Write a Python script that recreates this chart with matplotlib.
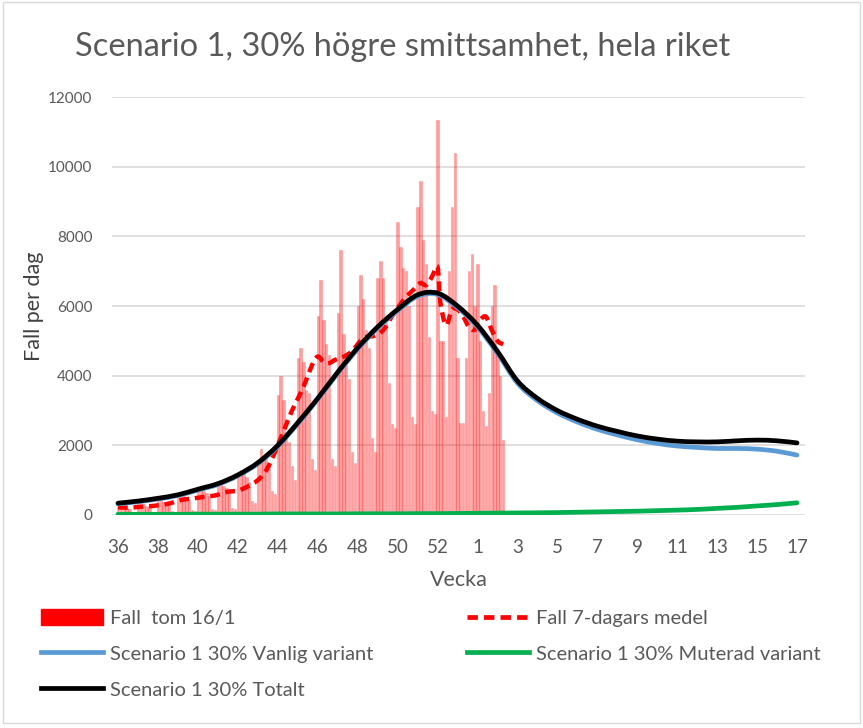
import numpy as np
import matplotlib
matplotlib.use("Agg")
import matplotlib.pyplot as plt
from matplotlib.lines import Line2D
from matplotlib.patches import Patch, Rectangle, PathPatch
from matplotlib.path import Path

plt.rcParams['font.family'] = ['Lato', 'DejaVu Sans']

# ---------------- data ----------------
week_tick_labels = ['36', '38', '40', '42', '44', '46', '48', '50', '52',
                    '1', '3', '5', '7', '9', '11', '13', '15', '17']

# daily reported cases (index 0 = first day of week 36), up to 16/1
daily_cases = [
    240, 280, 230, 210, 180, 70, 60,            # w36
    320, 350, 310, 270, 240, 90, 80,            # w37
    400, 450, 380, 340, 300, 110, 90,           # w38
    560, 650, 540, 480, 430, 140, 110,          # w39
    720, 800, 680, 620, 540, 170, 130,          # w40
    880, 950, 840, 780, 660, 210, 170,          # w41
    1150, 1300, 1200, 1100, 950, 400, 350,      # w42
    1550, 1900, 1700, 1600, 1400, 700, 600,     # w43
    3450, 4000, 3300, 2200, 2100, 1400, 1000,   # w44
    4500, 4800, 4400, 3600, 3500, 1600, 1300,   # w45
    5700, 6750, 5600, 4900, 4600, 1600, 1400,   # w46
    5800, 7600, 5200, 4300, 3900, 1800, 1500,   # w47
    6000, 6900, 6200, 5300, 4800, 2200, 1800,   # w48
    6800, 7300, 6800, 5500, 3800, 2600, 2500,   # w49
    8400, 7700, 7100, 7000, 6000, 2800, 2600,   # w50
    8850, 9600, 7900, 7200, 5100, 3000, 2900,   # w51
    11350, 5000, 5000, 2800, 7000, 8850, 10400,  # w52
    4500, 2650, 2650, 4500, 7000, 7500, 6000,   # w53
    7200, 5000, 3000, 2550, 3500, 6000, 6600,   # w1
    4650, 4000, 2150,                           # w2
]

# 7-day average (day index, value)
avg7_day = [0, 4, 7, 11, 15, 18, 22, 26, 30, 34, 38, 42, 45, 49, 52, 55, 57, 59,
            61, 64, 66, 68, 70, 72, 74, 76, 79, 82, 85, 87, 90, 93, 96, 99, 101,
            104, 106, 108, 110, 112, 113, 115, 117, 119, 121, 123, 125, 127, 129,
            131, 133, 135]
avg7_val = [220, 210, 230, 250, 290, 330, 430, 470, 520, 560, 660, 700, 800, 1000,
            1290, 1800, 2200, 2600, 3000, 3500, 3880, 4300, 4550, 4400, 4360, 4450,
            4540, 4700, 5000, 5110, 5150, 5310, 5700, 6050, 6260, 6500, 6660, 6600,
            6830, 7120, 6100, 5450, 5890, 5900, 5700, 5400, 5320, 5600, 5690, 5310,
            5000, 4900]

# scenario curves, one value per week (week 36 .. week 17)
scen_total = [340, 400, 480, 580, 740, 900, 1150, 1500, 2000, 2650, 3350, 4100,
              4800, 5400, 5900, 6320, 6370, 6000, 5450, 4700, 3850, 3350, 3000,
              2750, 2550, 2400, 2270, 2180, 2120, 2100, 2100, 2130, 2150, 2130, 2070]
scen_vanlig = [320, 380, 460, 560, 715, 875, 1125, 1475, 1970, 2620, 3320, 4070,
               4765, 5365, 5865, 6280, 6330, 5955, 5400, 4645, 3790, 3285, 2930,
               2670, 2460, 2300, 2160, 2055, 1980, 1940, 1910, 1910, 1890, 1830, 1720]
scen_muterad = [20, 20, 20, 20, 25, 25, 25, 25, 30, 30, 30, 30, 35, 35, 35, 40, 40,
                45, 50, 55, 60, 65, 70, 80, 90, 100, 110, 125, 140, 160, 190, 220,
                260, 300, 350]

TXT = '#595959'


def smooth_line(ax, xs, ys, **kw):
    """Draw a smoothed line (Excel style, Catmull-Rom as Bezier) through the points."""
    pts = np.column_stack([np.asarray(xs, float), np.asarray(ys, float)])
    n = len(pts)
    verts = [pts[0]]
    codes = [Path.MOVETO]
    for i in range(n - 1):
        p0 = pts[i - 1] if i > 0 else pts[i]
        p1 = pts[i]
        p2 = pts[i + 1]
        p3 = pts[i + 2] if i + 2 < n else pts[i + 1]
        c1 = p1 + (p2 - p0) / 6.0
        c2 = p2 - (p3 - p1) / 6.0
        verts += [c1, c2, p2]
        codes += [Path.CURVE4] * 3
    patch = PathPatch(Path(verts, codes), fill=False, transform=ax.transData, **kw)
    ax.add_patch(patch)
    return patch


# ---------------- figure ----------------
W, H = 863, 728
fig = plt.figure(figsize=(W / 100, H / 100), dpi=100)
fig.patch.set_facecolor('white')
fig.add_artist(Rectangle((0.004, 0.007), 0.992, 0.99, transform=fig.transFigure,
                         fill=False, edgecolor='#d9d9d9', linewidth=1.0))

L, R, T, B = 112, 805, 97, 515
ax = fig.add_axes([L / W, 1 - B / H, (R - L) / W, (B - T) / H])

day_idx = np.arange(len(daily_cases))
ax.bar(day_idx, daily_cases, width=0.8, color=(1, 0, 0, 0.38),
       edgecolor=(1, 0, 0, 0.3), linewidth=0.4, zorder=2)

LW = 3.4
DASH = (0, (2.2, 1.3))
smooth_line(ax, avg7_day, avg7_val, edgecolor='#ff0000', lw=3.2, linestyle=DASH,
            zorder=3, capstyle='butt')

week_x = np.arange(len(scen_total)) * 7
smooth_line(ax, week_x, scen_vanlig, edgecolor='#5b9bd5', lw=LW, zorder=4,
            capstyle='round')
smooth_line(ax, week_x, scen_muterad, edgecolor='#00b050', lw=LW, zorder=5,
            capstyle='round')
smooth_line(ax, week_x, scen_total, edgecolor='#000000', lw=LW, zorder=6,
            capstyle='round')

ax.set_ylim(0, 12000)
ax.set_yticks(np.arange(0, 12001, 2000))
ax.set_xlim(-2.1, 240.8)
ax.set_xticks(np.arange(0, 14 * len(week_tick_labels), 14))
ax.set_xticklabels(week_tick_labels)
ax.grid(axis='y', color='#d9d9d9', linewidth=1.2, zorder=0)
ax.set_axisbelow(True)
for s in ax.spines.values():
    s.set_visible(False)
ax.tick_params(axis='both', length=0, colors=TXT)
ax.tick_params(axis='x', labelsize=13.5, pad=17)
ax.tick_params(axis='y', labelsize=11, pad=14)

ax.set_xlabel('Vecka', fontsize=15.5, color=TXT, labelpad=10)
ax.set_ylabel('Fall per dag', fontsize=15.5, color='#404040', labelpad=3)

fig.text(403 / W, 1 - 47 / H, 'Scenario 1, 30% högre smittsamhet, hela riket',
         ha='center', va='center', fontsize=23.5, color=TXT)

# legend
h_bar = Patch(facecolor='#ff0000', edgecolor='#ff0000')
h_avg = Line2D([], [], color='#ff0000', lw=LW, linestyle=DASH)
h_van = Line2D([], [], color='#5b9bd5', lw=LW)
h_mut = Line2D([], [], color='#00b050', lw=LW)
h_tot = Line2D([], [], color='#000000', lw=LW)

common = dict(frameon=False, fontsize=14.5, handlelength=3.1, handletextpad=0.3,
              labelspacing=0.88, borderaxespad=0, labelcolor=TXT,
              handleheight=0.85)
leg1 = fig.legend([h_bar, h_van, h_tot],
                  ['Fall  tom 16/1', 'Scenario 1 30% Vanlig variant',
                   'Scenario 1 30% Totalt'],
                  loc='upper left', bbox_to_anchor=(33 / W, 1 - 601 / H), **common)
leg2 = fig.legend([h_avg, h_mut],
                  ['Fall 7-dagars medel', 'Scenario 1 30% Muterad variant'],
                  loc='upper left', bbox_to_anchor=(459 / W, 1 - 601 / H), **common)

fig.savefig('out.png', dpi=100)
